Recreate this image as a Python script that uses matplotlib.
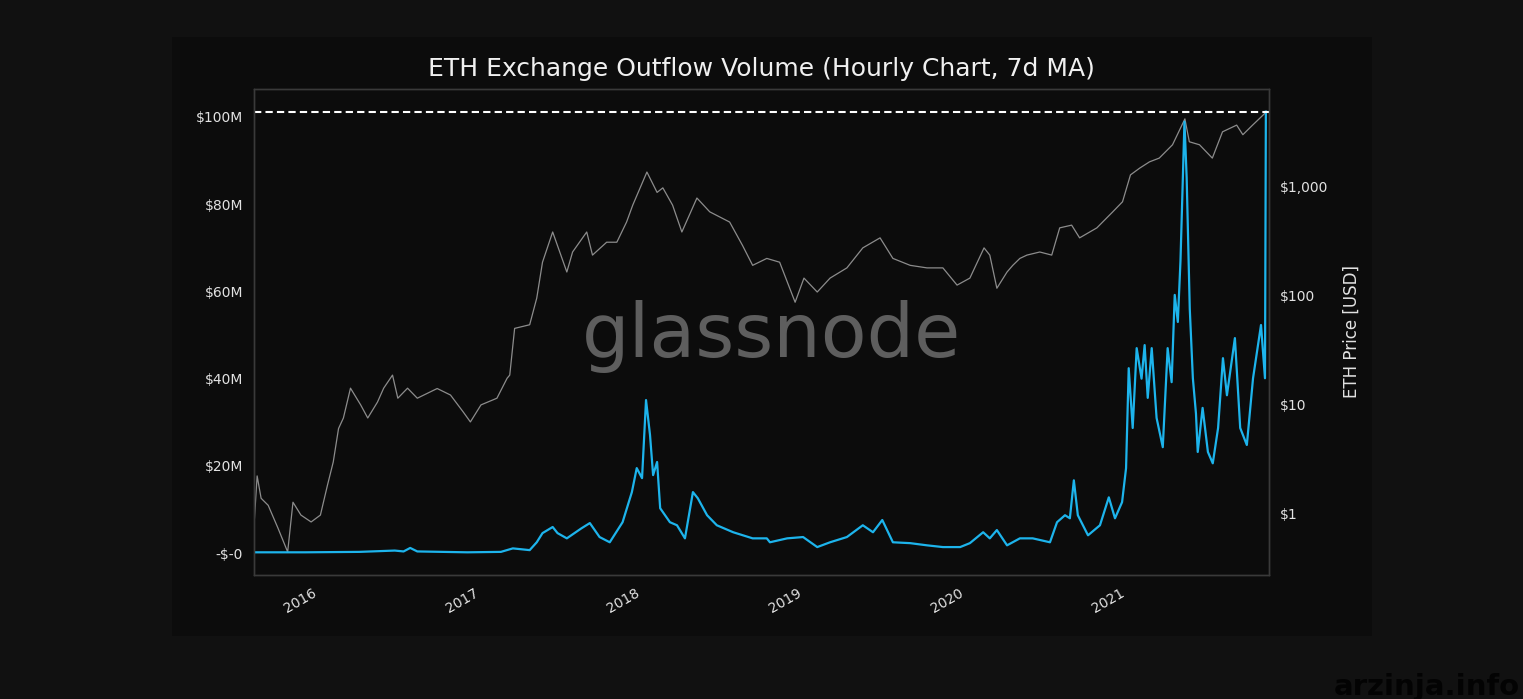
import matplotlib
matplotlib.use('Agg')
import matplotlib.pyplot as plt
import matplotlib.dates as mdates
from matplotlib.ticker import FuncFormatter, LogLocator, NullFormatter, FixedLocator
from matplotlib.patches import Rectangle
import pandas as pd

# ETH price (USD, right log axis)
price_dates = ['2015-08-08', '2015-08-14', '2015-08-23', '2015-09-08', '2015-09-30', '2015-10-22',
               '2015-11-03', '2015-11-21', '2015-12-14', '2016-01-04', '2016-01-20', '2016-02-02',
               '2016-02-14', '2016-02-25', '2016-03-12', '2016-04-04', '2016-04-20', '2016-05-12',
               '2016-05-26', '2016-06-15', '2016-06-27', '2016-07-19', '2016-08-10', '2016-09-24',
               '2016-10-24', '2016-11-22', '2016-12-08', '2017-01-01', '2017-02-06', '2017-03-01',
               '2017-03-07', '2017-03-18', '2017-04-21', '2017-05-07', '2017-05-20', '2017-06-12',
               '2017-07-14', '2017-07-27', '2017-08-28', '2017-09-10', '2017-10-12', '2017-11-04',
               '2017-11-26', '2017-12-10', '2018-01-11', '2018-02-03', '2018-02-16', '2018-03-10',
               '2018-03-31', '2018-05-04', '2018-06-02', '2018-07-17', '2018-08-15', '2018-09-07',
               '2018-10-09', '2018-11-07', '2018-12-12', '2019-01-01', '2019-01-31', '2019-03-01',
               '2019-04-08', '2019-05-14', '2019-06-22', '2019-07-21', '2019-08-29', '2019-10-06',
               '2019-11-11', '2019-12-13', '2020-01-11', '2020-02-12', '2020-02-25', '2020-03-12',
               '2020-04-04', '2020-04-17', '2020-05-03', '2020-05-19', '2020-06-17', '2020-07-14',
               '2020-08-01', '2020-08-28', '2020-09-15', '2020-10-24', '2020-11-29', '2020-12-21',
               '2021-01-08', '2021-01-29', '2021-02-20', '2021-03-14', '2021-04-13', '2021-05-11',
               '2021-05-21', '2021-06-13', '2021-07-12', '2021-08-04', '2021-09-05', '2021-09-19',
               '2021-10-11', '2021-11-09']
price_usd = [0.9, 2.2, 1.37, 1.18, 0.73, 0.44,
             1.26, 0.96, 0.83, 0.96, 1.81, 2.95,
             6.0, 7.5, 14.1, 9.9, 7.5, 10.5,
             14.1, 18.6, 11.4, 14.1, 11.4, 14.0,
             12.2, 8.5, 6.9, 9.9, 11.4, 17.4,
             18.6, 50, 54, 95, 203, 385,
             165, 252, 385, 236, 310, 310,
             475, 680, 1370, 890, 980, 680,
             385, 790, 590, 475, 290, 190,
             220, 203, 87, 145, 108, 145,
             180, 275, 340, 220, 190, 180,
             180, 125, 145, 275, 236, 117,
             165, 190, 220, 236, 252, 236,
             420, 445, 340, 420, 590, 730,
             1290, 1490, 1700, 1840, 2440, 4220,
             2600, 2440, 1840, 3210, 3700, 3020,
             3700, 4800]

# exchange outflow volume, 7d MA (million USD, left axis)
flow_dates = ['2015-08-08', '2015-12-01', '2016-04-01', '2016-06-20', '2016-07-10', '2016-07-25',
              '2016-08-10', '2016-12-01', '2017-02-15', '2017-03-14', '2017-04-21', '2017-05-07',
              '2017-05-20', '2017-06-12', '2017-06-23', '2017-07-14', '2017-08-16', '2017-09-04',
              '2017-09-26', '2017-10-19', '2017-11-17', '2017-12-08', '2017-12-19', '2017-12-31',
              '2018-01-09', '2018-01-18', '2018-01-25', '2018-02-03', '2018-02-10', '2018-03-04',
              '2018-03-20', '2018-04-07', '2018-04-25', '2018-05-06', '2018-05-27', '2018-06-18',
              '2018-07-25', '2018-09-07', '2018-10-09', '2018-10-16', '2018-11-24', '2018-12-30',
              '2019-01-31', '2019-03-01', '2019-04-08', '2019-05-14', '2019-06-06', '2019-06-27',
              '2019-07-21', '2019-08-29', '2019-10-06', '2019-11-11', '2019-12-20', '2020-01-11',
              '2020-02-10', '2020-02-25', '2020-03-12', '2020-04-04', '2020-05-03', '2020-06-01',
              '2020-07-10', '2020-07-26', '2020-08-13', '2020-08-24', '2020-09-02', '2020-09-11',
              '2020-10-04', '2020-10-31', '2020-11-20', '2020-12-04', '2020-12-20', '2020-12-29',
              '2021-01-04', '2021-01-13', '2021-01-22', '2021-02-02', '2021-02-09', '2021-02-16',
              '2021-02-25', '2021-03-08', '2021-03-22', '2021-04-02', '2021-04-11', '2021-04-18',
              '2021-04-25', '2021-05-01', '2021-05-10', '2021-05-15', '2021-05-22', '2021-05-29',
              '2021-06-05', '2021-06-09', '2021-06-20', '2021-07-02', '2021-07-13', '2021-07-25',
              '2021-08-05', '2021-08-14', '2021-09-01', '2021-09-13', '2021-09-28', '2021-10-12',
              '2021-10-30', '2021-11-08', '2021-11-10']
flow_musd = [0.2, 0.2, 0.3, 0.6, 0.4, 1.2,
             0.4, 0.2, 0.3, 1.1, 0.7, 2.5,
             4.6, 6.0, 4.6, 3.4, 5.7, 6.9,
             3.7, 2.5, 7.1, 14.0, 19.5, 17.2,
             35.1, 27.1, 17.9, 20.9, 10.3, 7.1,
             6.4, 3.4, 14.0, 12.6, 8.7, 6.4,
             4.8, 3.4, 3.4, 2.5, 3.4, 3.7,
             1.4, 2.5, 3.7, 6.4, 4.8, 7.6,
             2.5, 2.3, 1.8, 1.4, 1.4, 2.3,
             4.8, 3.4, 5.3, 1.8, 3.4, 3.4,
             2.5, 7.1, 8.7, 8.0, 16.7, 8.7,
             4.1, 6.4, 12.8, 8.0, 11.7, 19.5,
             42.4, 28.7, 47.0, 40.0, 47.7, 35.6,
             47.0, 31.0, 24.3, 47.0, 39.2, 59.2,
             53.0, 67.0, 98.9, 86.0, 56.0, 40.1,
             32.0, 23.2, 33.3, 23.2, 20.6, 28.7,
             44.7, 36.2, 49.3, 28.7, 24.8, 40.1,
             52.3, 40.1, 101.2]

bg = '#111111'
panel = '#0c0c0c'
txt = '#e2e2e2'

fig = plt.figure(figsize=(15.23, 6.99), dpi=100, facecolor=bg)
fig.patches.append(Rectangle((0.113, 0.090), 0.788, 0.857, transform=fig.transFigure,
                             facecolor=panel, edgecolor='none', zorder=-10))

ax = fig.add_axes([0.1668, 0.1774, 0.6664, 0.6953])
ax2 = ax.twinx()
ax.set_zorder(2)
ax.patch.set_visible(False)

ax2.plot(pd.to_datetime(price_dates), price_usd, color='#8c8c8c', lw=0.9)
ax2.set_yscale('log')
ax2.set_ylim(0.27, 7950)

ax.plot(pd.to_datetime(flow_dates), flow_musd, color='#1db4ec', lw=1.6)
ax.axhline(flow_musd[-1], color='white', lw=1.5, ls=(0, (3.5, 2)))
ax.set_ylim(-5.0, 106.4)
ax.set_xlim(pd.Timestamp('2015-08-07'), pd.Timestamp('2021-11-17'))

ax.yaxis.set_major_locator(FixedLocator([0, 20, 40, 60, 80, 100]))
ax.yaxis.set_major_formatter(FuncFormatter(lambda v, p: '-$-0' if v == 0 else '$%dM' % v))
ax2.yaxis.set_major_locator(LogLocator(base=10))
ax2.yaxis.set_major_formatter(FuncFormatter(lambda v, p: '${:,.0f}'.format(v)))
ax2.yaxis.set_minor_formatter(NullFormatter())

ax.xaxis.set_major_locator(mdates.YearLocator())
ax.xaxis.set_major_formatter(mdates.DateFormatter('%Y'))
for lab in ax.get_xticklabels():
    lab.set_rotation(30)
    lab.set_ha('right')

for a in (ax, ax2):
    a.tick_params(which='both', length=0, colors=txt, labelsize=10, pad=8)
    for s in a.spines.values():
        s.set_color('#3a3a3a')
        s.set_linewidth(1.0)

ax2.set_ylabel('ETH Price [USD]', color=txt, fontsize=12, labelpad=10)
ax.set_title('ETH Exchange Outflow Volume (Hourly Chart, 7d MA)', color='#f0f0f0', fontsize=18, pad=9)

ax.text(0.51, 0.49, 'glassnode', transform=ax.transAxes, ha='center', va='center',
        fontsize=54, color='#5e5e5e', zorder=0)

fig.text(0.998, 0.006, 'arzinja.info', ha='right', va='baseline', fontsize=21,
         fontweight='bold', color='#030303')

plt.savefig('out.png', dpi=100, facecolor=bg)
